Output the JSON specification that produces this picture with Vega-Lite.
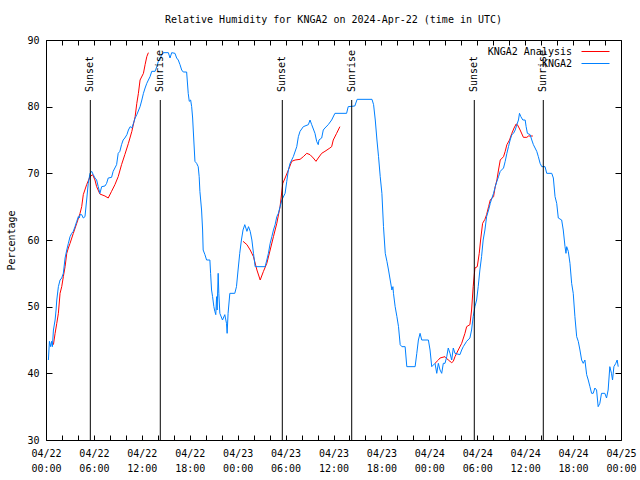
{
  "$schema": "https://vega.github.io/schema/vega-lite/v6.json",
  "width": 575,
  "height": 400,
  "autosize": "none",
  "padding": {"left": 46, "top": 40, "right": 19, "bottom": 40},
  "background": "white",
  "title": {"text": "Relative Humidity for KNGA2 on 2024-Apr-22 (time in UTC)", "font": "DejaVu Sans Mono", "fontSize": 10, "fontWeight": "normal", "color": "black", "anchor": "middle", "offset": 10},
  "config": {
    "view": {"stroke": "black", "strokeWidth": 1},
    "axis": {"grid": false, "domain": false, "labelFont": "DejaVu Sans Mono", "labelFontSize": 10, "labelColor": "black", "tickColor": "black", "titleFont": "DejaVu Sans Mono", "titleFontSize": 10, "titleFontWeight": "normal", "titleColor": "black"}
  },
  "datasets": {
    "ana": [
      {"s":"KNGA2 Analysis","h":0.93,"rh":44.3,"seg":1},{"s":"KNGA2 Analysis","h":1.14,"rh":46,"seg":1},{"s":"KNGA2 Analysis","h":1.35,"rh":47.5,"seg":1},{"s":"KNGA2 Analysis","h":1.55,"rh":49,"seg":1},{"s":"KNGA2 Analysis","h":1.76,"rh":52,"seg":1},{"s":"KNGA2 Analysis","h":1.97,"rh":53,"seg":1},{"s":"KNGA2 Analysis","h":2.17,"rh":54.5,"seg":1},{"s":"KNGA2 Analysis","h":2.39,"rh":56,"seg":1},{"s":"KNGA2 Analysis","h":2.6,"rh":58,"seg":1},{"s":"KNGA2 Analysis","h":2.8,"rh":58.8,"seg":1},{"s":"KNGA2 Analysis","h":3.01,"rh":59.5,"seg":1},{"s":"KNGA2 Analysis","h":3.42,"rh":61,"seg":1},{"s":"KNGA2 Analysis","h":3.85,"rh":62.5,"seg":1},{"s":"KNGA2 Analysis","h":4.26,"rh":64,"seg":1},{"s":"KNGA2 Analysis","h":4.47,"rh":65,"seg":1},{"s":"KNGA2 Analysis","h":4.67,"rh":66.8,"seg":1},{"s":"KNGA2 Analysis","h":5.09,"rh":68.3,"seg":1},{"s":"KNGA2 Analysis","h":5.51,"rh":69.5,"seg":1},{"s":"KNGA2 Analysis","h":5.84,"rh":69.8,"seg":1},{"s":"KNGA2 Analysis","h":6.13,"rh":69,"seg":1},{"s":"KNGA2 Analysis","h":6.34,"rh":68,"seg":1},{"s":"KNGA2 Analysis","h":6.75,"rh":66.9,"seg":1},{"s":"KNGA2 Analysis","h":7.38,"rh":66.6,"seg":1},{"s":"KNGA2 Analysis","h":7.79,"rh":66.3,"seg":1},{"s":"KNGA2 Analysis","h":8.21,"rh":67.3,"seg":1},{"s":"KNGA2 Analysis","h":8.63,"rh":68.3,"seg":1},{"s":"KNGA2 Analysis","h":9.04,"rh":69.5,"seg":1},{"s":"KNGA2 Analysis","h":9.46,"rh":71.3,"seg":1},{"s":"KNGA2 Analysis","h":9.87,"rh":72.8,"seg":1},{"s":"KNGA2 Analysis","h":10.32,"rh":74.5,"seg":1},{"s":"KNGA2 Analysis","h":10.75,"rh":76.3,"seg":1},{"s":"KNGA2 Analysis","h":11.16,"rh":78.5,"seg":1},{"s":"KNGA2 Analysis","h":11.37,"rh":80.5,"seg":1},{"s":"KNGA2 Analysis","h":11.57,"rh":82,"seg":1},{"s":"KNGA2 Analysis","h":11.78,"rh":84,"seg":1},{"s":"KNGA2 Analysis","h":12.2,"rh":85,"seg":1},{"s":"KNGA2 Analysis","h":12.41,"rh":86.3,"seg":1},{"s":"KNGA2 Analysis","h":12.62,"rh":87.5,"seg":1},{"s":"KNGA2 Analysis","h":12.82,"rh":88.1,"seg":1},
      {"s":"KNGA2 Analysis","h":24.67,"rh":59.8,"seg":2},{"s":"KNGA2 Analysis","h":25.16,"rh":59.3,"seg":2},{"s":"KNGA2 Analysis","h":25.57,"rh":58.5,"seg":2},{"s":"KNGA2 Analysis","h":25.98,"rh":57.5,"seg":2},{"s":"KNGA2 Analysis","h":26.41,"rh":55.5,"seg":2},{"s":"KNGA2 Analysis","h":26.82,"rh":54,"seg":2},{"s":"KNGA2 Analysis","h":27.23,"rh":55.3,"seg":2},{"s":"KNGA2 Analysis","h":27.65,"rh":56.5,"seg":2},{"s":"KNGA2 Analysis","h":28.07,"rh":58.5,"seg":2},{"s":"KNGA2 Analysis","h":28.48,"rh":60.5,"seg":2},{"s":"KNGA2 Analysis","h":28.9,"rh":62.5,"seg":2},{"s":"KNGA2 Analysis","h":29.31,"rh":65,"seg":2},{"s":"KNGA2 Analysis","h":29.65,"rh":68.5,"seg":2},{"s":"KNGA2 Analysis","h":29.94,"rh":69.3,"seg":2},{"s":"KNGA2 Analysis","h":30.35,"rh":70.5,"seg":2},{"s":"KNGA2 Analysis","h":30.77,"rh":71.8,"seg":2},{"s":"KNGA2 Analysis","h":31.19,"rh":72,"seg":2},{"s":"KNGA2 Analysis","h":31.81,"rh":72.1,"seg":2},{"s":"KNGA2 Analysis","h":32.22,"rh":72.5,"seg":2},{"s":"KNGA2 Analysis","h":32.65,"rh":73,"seg":2},{"s":"KNGA2 Analysis","h":33.06,"rh":72.8,"seg":2},{"s":"KNGA2 Analysis","h":33.47,"rh":72.3,"seg":2},{"s":"KNGA2 Analysis","h":33.81,"rh":71.8,"seg":2},{"s":"KNGA2 Analysis","h":34.09,"rh":72.3,"seg":2},{"s":"KNGA2 Analysis","h":34.52,"rh":73,"seg":2},{"s":"KNGA2 Analysis","h":34.93,"rh":73.3,"seg":2},{"s":"KNGA2 Analysis","h":35.55,"rh":73.8,"seg":2},{"s":"KNGA2 Analysis","h":35.77,"rh":74,"seg":2},{"s":"KNGA2 Analysis","h":35.97,"rh":75,"seg":2},{"s":"KNGA2 Analysis","h":36.39,"rh":76,"seg":2},{"s":"KNGA2 Analysis","h":36.8,"rh":77,"seg":2},
      {"s":"KNGA2 Analysis","h":48.71,"rh":41.5,"seg":3},{"s":"KNGA2 Analysis","h":49.13,"rh":42,"seg":3},{"s":"KNGA2 Analysis","h":49.34,"rh":42.3,"seg":3},{"s":"KNGA2 Analysis","h":49.96,"rh":42.5,"seg":3},{"s":"KNGA2 Analysis","h":50.37,"rh":42,"seg":3},{"s":"KNGA2 Analysis","h":50.8,"rh":41.6,"seg":3},{"s":"KNGA2 Analysis","h":51.0,"rh":41.8,"seg":3},{"s":"KNGA2 Analysis","h":51.21,"rh":42.5,"seg":3},{"s":"KNGA2 Analysis","h":51.62,"rh":43.5,"seg":3},{"s":"KNGA2 Analysis","h":52.05,"rh":44.5,"seg":3},{"s":"KNGA2 Analysis","h":52.46,"rh":46,"seg":3},{"s":"KNGA2 Analysis","h":52.67,"rh":47,"seg":3},{"s":"KNGA2 Analysis","h":53.08,"rh":47.3,"seg":3},{"s":"KNGA2 Analysis","h":53.29,"rh":49.5,"seg":3},{"s":"KNGA2 Analysis","h":53.49,"rh":53,"seg":3},{"s":"KNGA2 Analysis","h":53.71,"rh":55.8,"seg":3},{"s":"KNGA2 Analysis","h":54.0,"rh":56,"seg":3},{"s":"KNGA2 Analysis","h":54.25,"rh":58,"seg":3},{"s":"KNGA2 Analysis","h":54.42,"rh":60,"seg":3},{"s":"KNGA2 Analysis","h":54.67,"rh":62.5,"seg":3},{"s":"KNGA2 Analysis","h":54.96,"rh":63.1,"seg":3},{"s":"KNGA2 Analysis","h":55.17,"rh":63.8,"seg":3},{"s":"KNGA2 Analysis","h":55.42,"rh":65,"seg":3},{"s":"KNGA2 Analysis","h":55.63,"rh":66,"seg":3},{"s":"KNGA2 Analysis","h":56.04,"rh":66.5,"seg":3},{"s":"KNGA2 Analysis","h":56.25,"rh":68,"seg":3},{"s":"KNGA2 Analysis","h":56.46,"rh":69,"seg":3},{"s":"KNGA2 Analysis","h":56.66,"rh":70.5,"seg":3},{"s":"KNGA2 Analysis","h":56.88,"rh":72,"seg":3},{"s":"KNGA2 Analysis","h":57.29,"rh":72.5,"seg":3},{"s":"KNGA2 Analysis","h":57.5,"rh":73.3,"seg":3},{"s":"KNGA2 Analysis","h":57.71,"rh":74.3,"seg":3},{"s":"KNGA2 Analysis","h":58.04,"rh":75,"seg":3},{"s":"KNGA2 Analysis","h":58.33,"rh":76,"seg":3},{"s":"KNGA2 Analysis","h":58.61,"rh":76.8,"seg":3},{"s":"KNGA2 Analysis","h":58.87,"rh":77.4,"seg":3},{"s":"KNGA2 Analysis","h":59.03,"rh":77.3,"seg":3},{"s":"KNGA2 Analysis","h":59.37,"rh":76.5,"seg":3},{"s":"KNGA2 Analysis","h":59.78,"rh":75.4,"seg":3},{"s":"KNGA2 Analysis","h":60.21,"rh":75.4,"seg":3},{"s":"KNGA2 Analysis","h":60.41,"rh":75.6,"seg":3},{"s":"KNGA2 Analysis","h":60.96,"rh":75.6,"seg":3}
    ],
    "obs": [
      {"s":"KNGA2","h":0.3,"rh":42},{"s":"KNGA2","h":0.43,"rh":44.8},{"s":"KNGA2","h":0.58,"rh":44},{"s":"KNGA2","h":0.7,"rh":44.8},{"s":"KNGA2","h":0.8,"rh":44},{"s":"KNGA2","h":0.93,"rh":46.5},{"s":"KNGA2","h":1.14,"rh":48},{"s":"KNGA2","h":1.26,"rh":49.5},{"s":"KNGA2","h":1.35,"rh":51},{"s":"KNGA2","h":1.55,"rh":53},{"s":"KNGA2","h":1.76,"rh":54},{"s":"KNGA2","h":1.97,"rh":54.3},{"s":"KNGA2","h":2.17,"rh":55},{"s":"KNGA2","h":2.39,"rh":57.3},{"s":"KNGA2","h":2.6,"rh":58.5},{"s":"KNGA2","h":2.8,"rh":59.5},{"s":"KNGA2","h":3.01,"rh":60.5},{"s":"KNGA2","h":3.22,"rh":61},{"s":"KNGA2","h":3.42,"rh":61.3},{"s":"KNGA2","h":3.63,"rh":62},{"s":"KNGA2","h":3.85,"rh":62.8},{"s":"KNGA2","h":4.05,"rh":63.5},{"s":"KNGA2","h":4.17,"rh":63.3},{"s":"KNGA2","h":4.26,"rh":63.8},{"s":"KNGA2","h":4.47,"rh":63.8},{"s":"KNGA2","h":4.67,"rh":63.3},{"s":"KNGA2","h":4.88,"rh":63.5},{"s":"KNGA2","h":5.09,"rh":66},{"s":"KNGA2","h":5.29,"rh":68.5},{"s":"KNGA2","h":5.51,"rh":70},{"s":"KNGA2","h":5.72,"rh":70.3},{"s":"KNGA2","h":5.92,"rh":69.8},{"s":"KNGA2","h":6.13,"rh":69.3},{"s":"KNGA2","h":6.34,"rh":69},{"s":"KNGA2","h":6.54,"rh":68},{"s":"KNGA2","h":6.75,"rh":67},{"s":"KNGA2","h":6.97,"rh":68},{"s":"KNGA2","h":7.38,"rh":68.1},{"s":"KNGA2","h":7.59,"rh":68.5},{"s":"KNGA2","h":7.79,"rh":69.3},{"s":"KNGA2","h":8.21,"rh":69.4},{"s":"KNGA2","h":8.41,"rh":70.3},{"s":"KNGA2","h":8.84,"rh":71.3},{"s":"KNGA2","h":9.04,"rh":73},{"s":"KNGA2","h":9.25,"rh":73.3},{"s":"KNGA2","h":9.46,"rh":74.3},{"s":"KNGA2","h":9.66,"rh":75},{"s":"KNGA2","h":9.87,"rh":75.3},{"s":"KNGA2","h":10.13,"rh":75.8},{"s":"KNGA2","h":10.32,"rh":76.5},{"s":"KNGA2","h":10.54,"rh":77},{"s":"KNGA2","h":10.75,"rh":76.8},{"s":"KNGA2","h":10.95,"rh":77.5},{"s":"KNGA2","h":11.16,"rh":78.3},{"s":"KNGA2","h":11.37,"rh":78.8},{"s":"KNGA2","h":11.78,"rh":80},{"s":"KNGA2","h":12.0,"rh":81},{"s":"KNGA2","h":12.2,"rh":82},{"s":"KNGA2","h":12.41,"rh":82.8},{"s":"KNGA2","h":12.62,"rh":83.5},{"s":"KNGA2","h":12.82,"rh":84},{"s":"KNGA2","h":13.03,"rh":84.5},{"s":"KNGA2","h":13.24,"rh":85.3},{"s":"KNGA2","h":13.66,"rh":85.3},{"s":"KNGA2","h":13.87,"rh":86},{"s":"KNGA2","h":14.07,"rh":86.8},{"s":"KNGA2","h":14.28,"rh":87.3},{"s":"KNGA2","h":14.49,"rh":87.7},{"s":"KNGA2","h":14.69,"rh":88.1},{"s":"KNGA2","h":15.32,"rh":88.1},{"s":"KNGA2","h":15.53,"rh":87.3},{"s":"KNGA2","h":15.74,"rh":88.1},{"s":"KNGA2","h":16.15,"rh":88},{"s":"KNGA2","h":16.36,"rh":87.3},{"s":"KNGA2","h":16.56,"rh":87},{"s":"KNGA2","h":16.78,"rh":86.3},{"s":"KNGA2","h":16.99,"rh":85.5},{"s":"KNGA2","h":17.19,"rh":85.2},{"s":"KNGA2","h":17.61,"rh":85.2},{"s":"KNGA2","h":17.81,"rh":82},{"s":"KNGA2","h":17.94,"rh":80.8},{"s":"KNGA2","h":18.11,"rh":81},{"s":"KNGA2","h":18.24,"rh":80},{"s":"KNGA2","h":18.36,"rh":78.3},{"s":"KNGA2","h":18.44,"rh":76.5},{"s":"KNGA2","h":18.56,"rh":73.8},{"s":"KNGA2","h":18.65,"rh":71.8},{"s":"KNGA2","h":18.86,"rh":71.5},{"s":"KNGA2","h":19.06,"rh":71},{"s":"KNGA2","h":19.18,"rh":69.5},{"s":"KNGA2","h":19.27,"rh":67.3},{"s":"KNGA2","h":19.48,"rh":64.5},{"s":"KNGA2","h":19.61,"rh":61.5},{"s":"KNGA2","h":19.68,"rh":58.5},{"s":"KNGA2","h":19.9,"rh":57.8},{"s":"KNGA2","h":20.11,"rh":57},{"s":"KNGA2","h":20.52,"rh":57},{"s":"KNGA2","h":20.61,"rh":55},{"s":"KNGA2","h":20.73,"rh":52.5},{"s":"KNGA2","h":20.86,"rh":51.5},{"s":"KNGA2","h":21.02,"rh":50},{"s":"KNGA2","h":21.14,"rh":49.3},{"s":"KNGA2","h":21.26,"rh":48.8},{"s":"KNGA2","h":21.36,"rh":51.5},{"s":"KNGA2","h":21.43,"rh":49.5},{"s":"KNGA2","h":21.56,"rh":55},{"s":"KNGA2","h":21.64,"rh":52},{"s":"KNGA2","h":21.77,"rh":49},{"s":"KNGA2","h":22.1,"rh":48},{"s":"KNGA2","h":22.39,"rh":48.8},{"s":"KNGA2","h":22.6,"rh":47.5},{"s":"KNGA2","h":22.68,"rh":46},{"s":"KNGA2","h":22.8,"rh":49},{"s":"KNGA2","h":23.02,"rh":52},{"s":"KNGA2","h":23.64,"rh":52},{"s":"KNGA2","h":23.85,"rh":53},{"s":"KNGA2","h":24.05,"rh":55.5},{"s":"KNGA2","h":24.26,"rh":58},{"s":"KNGA2","h":24.47,"rh":60},{"s":"KNGA2","h":24.67,"rh":61.5},{"s":"KNGA2","h":24.89,"rh":62.3},{"s":"KNGA2","h":25.16,"rh":61.3},{"s":"KNGA2","h":25.36,"rh":62},{"s":"KNGA2","h":25.57,"rh":61.3},{"s":"KNGA2","h":25.78,"rh":60},{"s":"KNGA2","h":25.98,"rh":58},{"s":"KNGA2","h":26.19,"rh":56},{"s":"KNGA2","h":27.44,"rh":56},{"s":"KNGA2","h":27.65,"rh":57},{"s":"KNGA2","h":27.85,"rh":58},{"s":"KNGA2","h":28.07,"rh":59.5},{"s":"KNGA2","h":28.28,"rh":60.5},{"s":"KNGA2","h":28.48,"rh":61.5},{"s":"KNGA2","h":28.69,"rh":62.3},{"s":"KNGA2","h":28.9,"rh":63.5},{"s":"KNGA2","h":29.1,"rh":64},{"s":"KNGA2","h":29.53,"rh":66},{"s":"KNGA2","h":29.94,"rh":67},{"s":"KNGA2","h":30.15,"rh":68.8},{"s":"KNGA2","h":30.35,"rh":70.5},{"s":"KNGA2","h":30.56,"rh":71.5},{"s":"KNGA2","h":30.97,"rh":72.5},{"s":"KNGA2","h":31.4,"rh":74},{"s":"KNGA2","h":31.6,"rh":75.5},{"s":"KNGA2","h":31.81,"rh":76.3},{"s":"KNGA2","h":32.22,"rh":77},{"s":"KNGA2","h":32.85,"rh":77.3},{"s":"KNGA2","h":33.06,"rh":78},{"s":"KNGA2","h":33.27,"rh":77.3},{"s":"KNGA2","h":33.68,"rh":76},{"s":"KNGA2","h":33.89,"rh":74.8},{"s":"KNGA2","h":34.09,"rh":74.3},{"s":"KNGA2","h":34.18,"rh":75},{"s":"KNGA2","h":34.52,"rh":75.3},{"s":"KNGA2","h":34.72,"rh":76.5},{"s":"KNGA2","h":34.93,"rh":76.8},{"s":"KNGA2","h":35.34,"rh":77.3},{"s":"KNGA2","h":35.77,"rh":78},{"s":"KNGA2","h":36.18,"rh":79},{"s":"KNGA2","h":37.64,"rh":79},{"s":"KNGA2","h":37.84,"rh":80},{"s":"KNGA2","h":38.67,"rh":80.1},{"s":"KNGA2","h":38.96,"rh":81.1},{"s":"KNGA2","h":40.82,"rh":81.1},{"s":"KNGA2","h":41.02,"rh":80.3},{"s":"KNGA2","h":41.23,"rh":78},{"s":"KNGA2","h":41.44,"rh":75},{"s":"KNGA2","h":41.64,"rh":72.5},{"s":"KNGA2","h":41.85,"rh":69.5},{"s":"KNGA2","h":42.06,"rh":67},{"s":"KNGA2","h":42.26,"rh":62},{"s":"KNGA2","h":42.48,"rh":58},{"s":"KNGA2","h":42.69,"rh":56.8},{"s":"KNGA2","h":42.89,"rh":55.5},{"s":"KNGA2","h":43.1,"rh":54},{"s":"KNGA2","h":43.31,"rh":52.5},{"s":"KNGA2","h":43.44,"rh":53},{"s":"KNGA2","h":43.51,"rh":52},{"s":"KNGA2","h":43.72,"rh":50},{"s":"KNGA2","h":43.94,"rh":48.5},{"s":"KNGA2","h":44.14,"rh":47},{"s":"KNGA2","h":44.35,"rh":44.3},{"s":"KNGA2","h":44.56,"rh":44},{"s":"KNGA2","h":44.97,"rh":44},{"s":"KNGA2","h":45.18,"rh":41},{"s":"KNGA2","h":46.22,"rh":41},{"s":"KNGA2","h":46.43,"rh":43},{"s":"KNGA2","h":46.63,"rh":45},{"s":"KNGA2","h":46.84,"rh":46},{"s":"KNGA2","h":47.05,"rh":45},{"s":"KNGA2","h":47.88,"rh":45},{"s":"KNGA2","h":48.09,"rh":43.5},{"s":"KNGA2","h":48.3,"rh":41},{"s":"KNGA2","h":48.71,"rh":41.5},{"s":"KNGA2","h":48.93,"rh":40},{"s":"KNGA2","h":49.13,"rh":41.5},{"s":"KNGA2","h":49.34,"rh":40.5},{"s":"KNGA2","h":49.55,"rh":40},{"s":"KNGA2","h":49.75,"rh":41.5},{"s":"KNGA2","h":49.96,"rh":41.5},{"s":"KNGA2","h":50.18,"rh":42.5},{"s":"KNGA2","h":50.37,"rh":43.8},{"s":"KNGA2","h":50.59,"rh":43},{"s":"KNGA2","h":50.8,"rh":42},{"s":"KNGA2","h":51.0,"rh":43.8},{"s":"KNGA2","h":51.21,"rh":43},{"s":"KNGA2","h":51.83,"rh":42.8},{"s":"KNGA2","h":52.05,"rh":43.5},{"s":"KNGA2","h":52.25,"rh":44},{"s":"KNGA2","h":52.67,"rh":44.8},{"s":"KNGA2","h":53.08,"rh":45.3},{"s":"KNGA2","h":53.29,"rh":46.5},{"s":"KNGA2","h":53.49,"rh":48.5},{"s":"KNGA2","h":53.71,"rh":50},{"s":"KNGA2","h":53.92,"rh":51},{"s":"KNGA2","h":54.12,"rh":53},{"s":"KNGA2","h":54.33,"rh":55.5},{"s":"KNGA2","h":54.54,"rh":57.5},{"s":"KNGA2","h":54.74,"rh":60},{"s":"KNGA2","h":54.96,"rh":61.5},{"s":"KNGA2","h":55.17,"rh":63.5},{"s":"KNGA2","h":55.42,"rh":64.5},{"s":"KNGA2","h":55.63,"rh":65.5},{"s":"KNGA2","h":55.84,"rh":66.3},{"s":"KNGA2","h":56.04,"rh":67},{"s":"KNGA2","h":56.25,"rh":68},{"s":"KNGA2","h":56.46,"rh":68.8},{"s":"KNGA2","h":56.66,"rh":69.5},{"s":"KNGA2","h":56.88,"rh":70.3},{"s":"KNGA2","h":57.29,"rh":70.8},{"s":"KNGA2","h":57.5,"rh":71.8},{"s":"KNGA2","h":57.71,"rh":73},{"s":"KNGA2","h":57.91,"rh":74},{"s":"KNGA2","h":58.12,"rh":75},{"s":"KNGA2","h":58.33,"rh":75.8},{"s":"KNGA2","h":58.54,"rh":76},{"s":"KNGA2","h":58.75,"rh":76.5},{"s":"KNGA2","h":58.96,"rh":77.3},{"s":"KNGA2","h":59.16,"rh":78},{"s":"KNGA2","h":59.29,"rh":79},{"s":"KNGA2","h":59.46,"rh":78.5},{"s":"KNGA2","h":59.71,"rh":78},{"s":"KNGA2","h":60.0,"rh":78},{"s":"KNGA2","h":60.12,"rh":77},{"s":"KNGA2","h":60.28,"rh":76},{"s":"KNGA2","h":60.62,"rh":75.8},{"s":"KNGA2","h":60.83,"rh":75},{"s":"KNGA2","h":61.03,"rh":74.3},{"s":"KNGA2","h":61.24,"rh":73.8},{"s":"KNGA2","h":61.45,"rh":73.3},{"s":"KNGA2","h":61.65,"rh":72.5},{"s":"KNGA2","h":61.87,"rh":71.5},{"s":"KNGA2","h":62.08,"rh":71},{"s":"KNGA2","h":62.49,"rh":71},{"s":"KNGA2","h":62.7,"rh":70},{"s":"KNGA2","h":63.33,"rh":70},{"s":"KNGA2","h":63.53,"rh":69.3},{"s":"KNGA2","h":63.74,"rh":66.5},{"s":"KNGA2","h":63.95,"rh":65.5},{"s":"KNGA2","h":64.15,"rh":63.3},{"s":"KNGA2","h":64.57,"rh":63},{"s":"KNGA2","h":64.77,"rh":61.5},{"s":"KNGA2","h":64.99,"rh":59},{"s":"KNGA2","h":65.11,"rh":58},{"s":"KNGA2","h":65.2,"rh":59},{"s":"KNGA2","h":65.4,"rh":58.3},{"s":"KNGA2","h":65.61,"rh":56.5},{"s":"KNGA2","h":65.82,"rh":53.5},{"s":"KNGA2","h":66.02,"rh":52},{"s":"KNGA2","h":66.23,"rh":48.5},{"s":"KNGA2","h":66.45,"rh":45.5},{"s":"KNGA2","h":66.65,"rh":44.8},{"s":"KNGA2","h":66.86,"rh":43.5},{"s":"KNGA2","h":67.07,"rh":42},{"s":"KNGA2","h":67.27,"rh":41.5},{"s":"KNGA2","h":67.48,"rh":42},{"s":"KNGA2","h":67.7,"rh":39.8},{"s":"KNGA2","h":67.9,"rh":39},{"s":"KNGA2","h":68.11,"rh":38},{"s":"KNGA2","h":68.32,"rh":37},{"s":"KNGA2","h":68.52,"rh":37},{"s":"KNGA2","h":68.73,"rh":37.8},{"s":"KNGA2","h":68.94,"rh":37.5},{"s":"KNGA2","h":69.14,"rh":35},{"s":"KNGA2","h":69.35,"rh":35.5},{"s":"KNGA2","h":69.56,"rh":37},{"s":"KNGA2","h":69.98,"rh":37},{"s":"KNGA2","h":70.19,"rh":36.3},{"s":"KNGA2","h":70.39,"rh":37.5},{"s":"KNGA2","h":70.6,"rh":41},{"s":"KNGA2","h":70.81,"rh":40},{"s":"KNGA2","h":70.94,"rh":39},{"s":"KNGA2","h":71.11,"rh":41},{"s":"KNGA2","h":71.35,"rh":41.5},{"s":"KNGA2","h":71.52,"rh":42},{"s":"KNGA2","h":71.65,"rh":41}
    ],
    "sun": [
      {"h":5.55,"event":"Sunset"},{"h":14.31,"event":"Sunrise"},{"h":29.59,"event":"Sunset"},{"h":38.28,"event":"Sunrise"},{"h":53.63,"event":"Sunset"},{"h":62.27,"event":"Sunrise"}
    ]
  },
  "layer": [
    {
      "data": {"name": "ana"},
      "mark": {"type": "line", "strokeWidth": 1},
      "encoding": {
        "x": {"field": "h", "type": "quantitative", "scale": {"domain": [0, 72], "nice": false, "zero": false},
          "axis": {"orient": "bottom", "title": null, "values": [0,2,4,6,8,10,12,14,16,18,20,22,24,26,28,30,32,34,36,38,40,42,44,46,48,50,52,54,56,58,60,62,64,66,68,70,72], "tickSize": -5, "labelPadding": 13, "labelBaseline": "top", "labelLineHeight": 15, "labelOverlap": false, "labelFlush": false, "labelBound": false,
            "labelExpr": "datum.value % 6 == 0 ? ['04/' + (22 + floor(datum.value / 24)), ((datum.value % 24) < 10 ? '0' : '') + (datum.value % 24) + ':00'] : ''"}},
        "y": {"field": "rh", "type": "quantitative", "scale": {"domain": [30, 90], "nice": false, "zero": false},
          "axis": {"orient": "left", "title": "Percentage", "values": [30,40,50,60,70,80,90], "tickSize": -6, "labelPadding": 13, "titlePadding": 10, "labelOverlap": false, "labelFlush": false}},
        "color": {"field": "s", "type": "nominal",
          "scale": {"domain": ["KNGA2 Analysis", "KNGA2"], "range": ["#ff0000", "#0080ff"]},
          "legend": {"orient": "none", "legendX": 544, "legendY": 6, "title": null, "symbolType": "M-2.8,0H2.8", "symbolSize": 100, "symbolStrokeWidth": 1, "symbolStrokeColor": "#ff0000", "symbolFillColor": "transparent", "labelAlign": "right", "labelOffset": -29, "labelFont": "DejaVu Sans Mono", "labelFontSize": 10, "labelColor": "black", "rowPadding": 1, "padding": 0,
            "encode": {"symbols": {"update": {"stroke": {"signal": "datum.value === 'KNGA2' ? '#0080ff' : '#ff0000'"}, "strokeOpacity": {"value": 1}}}}}},
        "detail": {"field": "seg", "type": "nominal"}
      }
    },
    {
      "data": {"name": "obs"},
      "mark": {"type": "line", "strokeWidth": 1},
      "encoding": {
        "x": {"field": "h", "type": "quantitative", "axis": {"orient": "top", "title": null, "labels": false, "values": [0,2,4,6,8,10,12,14,16,18,20,22,24,26,28,30,32,34,36,38,40,42,44,46,48,50,52,54,56,58,60,62,64,66,68,70,72], "tickSize": -5}},
        "y": {"field": "rh", "type": "quantitative", "axis": {"orient": "right", "title": null, "labels": false, "values": [30,40,50,60,70,80,90], "tickSize": -6}},
        "color": {"field": "s", "type": "nominal"}
      }
    },
    {
      "data": {"name": "sun"},
      "mark": {"type": "rule", "color": "black", "strokeWidth": 1},
      "encoding": {
        "x": {"field": "h", "type": "quantitative", "axis": null},
        "y": {"datum": 30, "type": "quantitative", "axis": null},
        "y2": {"datum": 81}
      }
    },
    {
      "data": {"name": "sun"},
      "mark": {"type": "text", "angle": 270, "align": "left", "baseline": "middle", "font": "DejaVu Sans Mono", "fontSize": 10, "color": "black"},
      "encoding": {
        "x": {"field": "h", "type": "quantitative", "axis": null},
        "y": {"datum": 82.2, "type": "quantitative", "axis": null},
        "text": {"field": "event"}
      }
    }
  ],
  "resolve": {"axis": {"x": "independent", "y": "independent"}}
}
